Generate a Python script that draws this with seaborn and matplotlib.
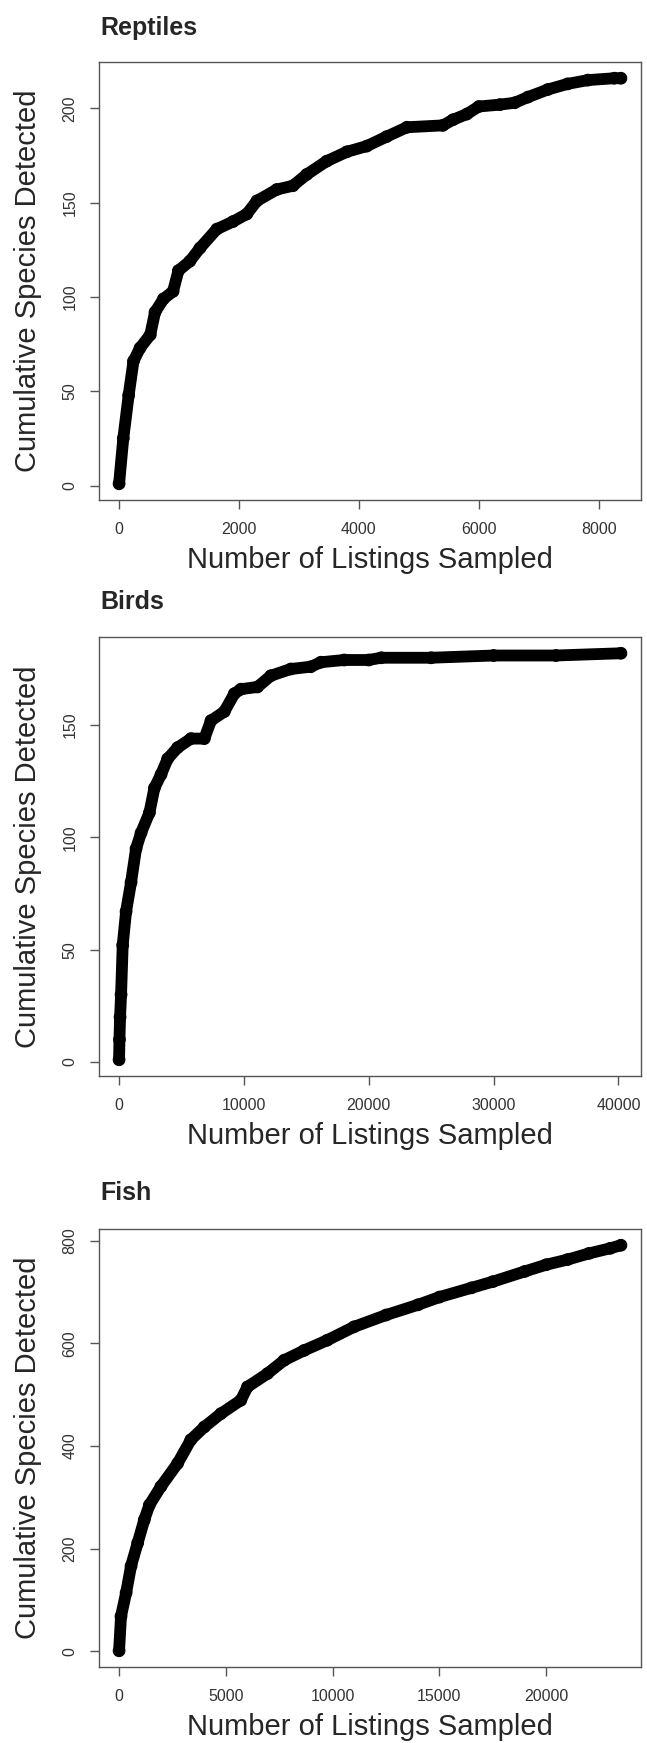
import numpy as np
import pandas as pd
import seaborn as sns
import matplotlib.pyplot as plt

# species accumulation curves
reptiles_x = [0, 70, 160, 240, 350, 520, 600, 740, 900, 990, 1180, 1350, 1630, 1900, 2130, 2300,
              2630, 2900, 3130, 3460, 3800, 4130, 4460, 4800, 5400, 5570, 5800, 6000, 6350, 6600,
              6820, 7150, 7480, 7820, 8260, 8370]
reptiles_y = [1, 25, 48, 66, 73, 80, 92, 99, 103, 114, 119, 126, 136, 140, 144, 151,
              157, 159, 165, 172, 177, 180, 185, 190, 191, 194, 197, 201, 202, 203,
              206, 210, 213, 215, 216, 216]

birds_x = [0, 30, 80, 160, 290, 560, 960, 1360, 1760, 2430, 2830, 3360, 3890, 4690, 5760, 6830,
           7360, 8430, 9230, 9760, 11090, 12160, 13760, 15360, 16160, 18030, 20000, 21000, 25000,
           30000, 35000, 40200]
birds_y = [1, 10, 20, 30, 52, 67, 80, 95, 102, 111, 122, 128, 135, 140, 144, 144,
           152, 156, 164, 166, 167, 172, 175, 176, 178, 179, 179, 180, 180,
           181, 181, 182]

fish_x = [0, 90, 330, 560, 870, 1180, 1420, 1960, 2740, 3360, 3990, 4770, 5700, 6010, 6950, 7730,
          8660, 9750, 11000, 12500, 14000, 15000, 16500, 17500, 19000, 20000, 21000, 22000, 23000,
          23500]
fish_y = [1, 68, 114, 166, 211, 256, 285, 321, 366, 412, 437, 463, 489, 515, 541, 567,
          586, 606, 632, 655, 675, 690, 708, 720, 740, 753, 763, 775, 785,
          791]

titles = ["Reptiles", "Birds", "Fish"]
xticks = [[0, 2000, 4000, 6000, 8000], [0, 10000, 20000, 30000, 40000], [0, 5000, 10000, 15000, 20000]]
yticks = [[0, 50, 100, 150, 200], [0, 50, 100, 150], [0, 200, 400, 600, 800]]

sns.set_style("white")
plt.rcParams["font.family"] = ["Liberation Sans", "DejaVu Sans"]

W, H = 647, 1743
fig = plt.figure(figsize=(W / 100, H / 100), dpi=100)

# axes boxes in pixels: (top, bottom), left/right shared
tops = [62, 637, 1229]
bottoms = [500, 1076, 1667]
title_y = [28, 602, 1193]
left, right = 99, 641

data = [(reptiles_x, reptiles_y), (birds_x, birds_y), (fish_x, fish_y)]

for i, (xs, ys) in enumerate(data):
    ax = fig.add_axes([left / W, 1 - bottoms[i] / H, (right - left) / W, (bottoms[i] - tops[i]) / H])
    df = pd.DataFrame({"listings": xs, "species": ys})
    sns.lineplot(data=df, x="listings", y="species", ax=ax, color="black", linewidth=8.5,
                 solid_joinstyle="round", solid_capstyle="round", estimator=None, sort=False)
    # open circles like R's pch=1, mostly hidden inside the thick trace
    ax.scatter(df["listings"], df["species"], s=70, facecolors="none", edgecolors="black",
               linewidths=0.8, zorder=3)

    # R style 4% padding
    xr = max(xs) - min(xs)
    yr = max(ys) - min(ys)
    ax.set_xlim(min(xs) - 0.04 * xr, max(xs) + 0.04 * xr)
    ax.set_ylim(min(ys) - 0.04 * yr, max(ys) + 0.04 * yr)

    ax.set_xticks(xticks[i])
    ax.set_yticks(yticks[i])
    ax.tick_params(axis="both", direction="out", length=6.5, width=1, color="#555555",
                   labelsize=11.5, labelcolor="#333333", pad=9, bottom=True, left=True)
    for lab in ax.get_yticklabels():
        lab.set_rotation(90)
        lab.set_va("center")
    for sp in ax.spines.values():
        sp.set_color("#555555")
        sp.set_linewidth(1.0)

    ax.set_xlabel("Number of Listings Sampled", fontsize=21)
    ax.set_ylabel("Cumulative Species Detected", fontsize=21)
    hgt = bottoms[i] - tops[i]
    ax.xaxis.set_label_coords(0.5, -60 / hgt)
    ax.xaxis.label.set_va("center")
    ax.yaxis.set_label_coords(-71 / (right - left), 0.5)
    ax.yaxis.label.set_va("center")

    fig.text(100 / W, 1 - title_y[i] / H, titles[i], fontsize=18, fontweight="bold",
             ha="left", va="center")

fig.savefig("out.png", dpi=100)
